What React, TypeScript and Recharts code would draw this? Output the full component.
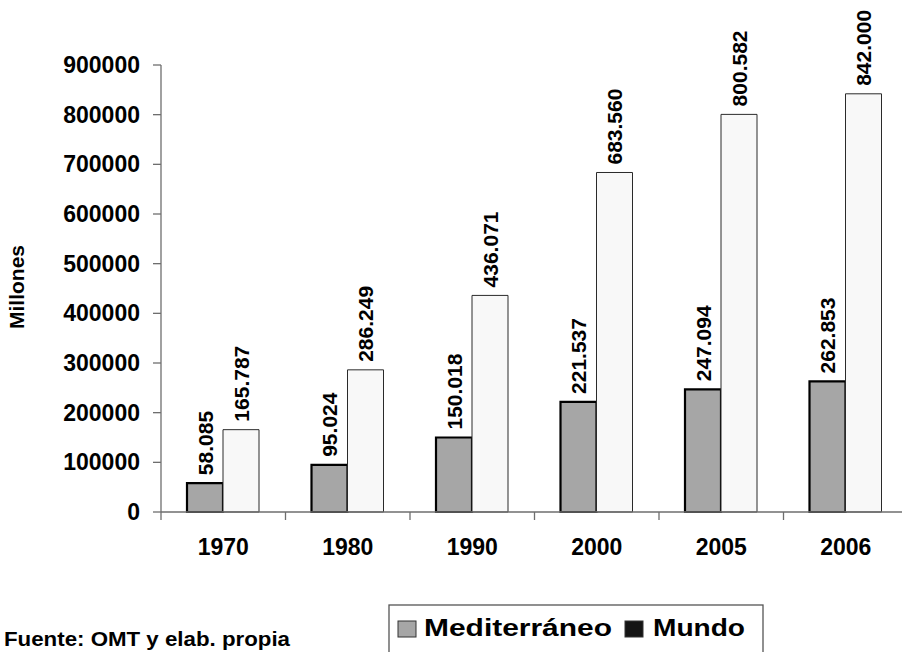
import React from 'react';
import { BarChart, Bar, XAxis, YAxis, LabelList } from 'recharts';

const years = ['1970', '1980', '1990', '2000', '2005', '2006'];
const mediterraneo = [58085, 95024, 150018, 221537, 247094, 262853];
const mundo = [165787, 286249, 436071, 683560, 800582, 842000];
const yTicks = [0, 100000, 200000, 300000, 400000, 500000, 600000, 700000, 800000, 900000];
const seriesNames = ['Mediterráneo', 'Mundo'];
const legendSwatches = ['#a6a6a6', '#141414'];

const data = years.map((year, i) => ({ year, med: mediterraneo[i], mundo: mundo[i] }));

const FONT = '"Liberation Sans", Arial, Helvetica, sans-serif';
const AXIS_COLOR = '#6e6e6e';
const X_TICK_SIZE = 8;
const X_TICK_MARGIN = 19;

const fmt = (v: number) => {
  const s = String(Math.round(v));
  return s.replace(/\B(?=(\d{3})+(?!\d))/g, '.');
};

const renderValueLabel = (props: any) => {
  const x = Number(props.x);
  const y = Number(props.y);
  const width = Number(props.width);
  const cx = x + width / 2;
  const ty = y - 8;
  return (
    <text
      x={cx}
      y={ty}
      transform={`rotate(-90 ${cx} ${ty})`}
      dy="0.36em"
      textAnchor="start"
      fontSize={21}
      fontWeight="bold"
      fontFamily={FONT}
      fill="#000"
    >
      {fmt(props.value)}
    </text>
  );
};

const XTick = (props: any) => {
  const { x, y, payload } = props;
  const off = payload && payload.offset ? payload.offset : 0;
  const axisY = y - X_TICK_MARGIN - X_TICK_SIZE;
  const lx = x - off;
  return (
    <g>
      <line x1={lx} x2={lx} y1={axisY} y2={axisY + X_TICK_SIZE} stroke={AXIS_COLOR} strokeWidth={1.3} />
      <text x={x} y={y} dy="0.71em" textAnchor="middle" fontSize={23} fontWeight="bold" fontFamily={FONT} fill="#000">
        {payload.value}
      </text>
    </g>
  );
};

export default function App() {
  return (
    <div style={{ position: 'absolute', left: 0, top: 0, width: 902, height: 652, overflow: 'hidden', background: '#fff' }}>
      <BarChart
        width={910}
        height={652}
        data={data}
        margin={{ top: 65, right: 2, left: 0, bottom: 0 }}
        barSize={36}
        barGap={0}
      >
        <YAxis
          type="number"
          domain={[0, 900000]}
          ticks={yTicks}
          interval={0}
          width={161}
          tickSize={8}
          tickMargin={13}
          axisLine={{ stroke: AXIS_COLOR, strokeWidth: 1.3 }}
          tickLine={{ stroke: AXIS_COLOR, strokeWidth: 1.3 }}
          tick={{ fontSize: 23, fontWeight: 'bold', fontFamily: FONT, fill: '#000' }}
          tickFormatter={(v: number) => String(v)}
        />
        <XAxis
          dataKey="year"
          type="category"
          interval={0}
          height={140}
          tickSize={X_TICK_SIZE}
          tickMargin={X_TICK_MARGIN}
          axisLine={{ stroke: AXIS_COLOR, strokeWidth: 1.3 }}
          tickLine={false}
          tick={<XTick />}
        />
        <Bar dataKey="med" name={seriesNames[0]} fill="#a6a6a6" stroke="#000" strokeWidth={2.2} isAnimationActive={false}>
          <LabelList dataKey="med" content={renderValueLabel} />
        </Bar>
        <Bar dataKey="mundo" name={seriesNames[1]} fill="#f8f8f8" stroke="#2a2a2a" strokeWidth={1} isAnimationActive={false}>
          <LabelList dataKey="mundo" content={renderValueLabel} />
        </Bar>
      </BarChart>
      <svg width={902} height={652} style={{ position: 'absolute', left: 0, top: 0, pointerEvents: 'none' }}>
        <text
          x={24}
          y={287}
          transform="rotate(-90 24 287)"
          textAnchor="middle"
          fontSize={21}
          fontWeight="bold"
          fontFamily={FONT}
          fill="#000"
        >
          Millones
        </text>
        <text x={4} y={646} fontSize={21} fontWeight="bold" fontFamily={FONT} fill="#000" textLength={286} lengthAdjust="spacingAndGlyphs">
          Fuente: OMT y elab. propia
        </text>
        <rect x={389} y={605} width={374} height={70} fill="#fff" stroke="#555" strokeWidth={1.3} />
        <rect x={398} y={621} width={18} height={16} fill={legendSwatches[0]} stroke="#333" strokeWidth={1} />
        <text x={424} y={636} fontSize={24} fontWeight="bold" fontFamily={FONT} fill="#000" textLength={188} lengthAdjust="spacingAndGlyphs">
          {seriesNames[0]}
        </text>
        <rect x={625} y={621} width={18} height={16} fill={legendSwatches[1]} stroke="#333" strokeWidth={1} />
        <text x={653} y={636} fontSize={24} fontWeight="bold" fontFamily={FONT} fill="#000" textLength={92} lengthAdjust="spacingAndGlyphs">
          {seriesNames[1]}
        </text>
      </svg>
    </div>
  );
}
